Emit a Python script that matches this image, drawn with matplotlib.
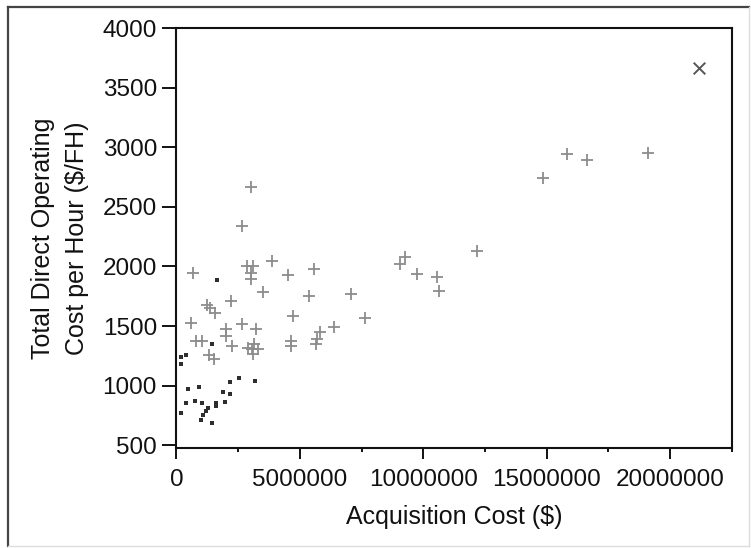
import numpy as np
import matplotlib
matplotlib.use("Agg")
import matplotlib.pyplot as plt
from matplotlib.lines import Line2D
from matplotlib.ticker import MultipleLocator

plt.rcParams['font.family'] = ['Liberation Sans', 'DejaVu Sans']

# === Data ===
# gray "+" points: acquisition cost ($), direct operating cost ($/FH)
plus_cost = [3.03e6, 2.67e6, 0.69e6, 2.85e6, 3.12e6, 3.02e6, 3.02e6, 3.89e6, 4.53e6, 5.59e6,
             3.50e6, 5.37e6, 7.07e6, 2.20e6, 1.23e6, 1.36e6, 1.56e6, 4.74e6, 7.64e6,
             0.59e6, 2.00e6, 2.00e6, 2.65e6, 3.21e6, 6.40e6, 5.83e6, 5.68e6, 5.64e6,
             4.63e6, 4.63e6, 0.78e6, 1.05e6, 2.27e6, 3.05e6, 3.16e6, 3.32e6, 3.12e6,
             2.89e6, 1.32e6, 1.54e6,
             15.81e6, 16.65e6, 19.10e6, 14.84e6, 12.19e6, 9.26e6, 9.06e6, 9.74e6,
             10.57e6, 10.65e6]
plus_doc = [2670, 2340, 1943, 2006, 2006, 1949, 1892, 2043, 1926, 1983,
            1787, 1751, 1770, 1708, 1680, 1651, 1609, 1586, 1566,
            1524, 1473, 1416, 1518, 1473, 1490, 1453, 1396, 1348,
            1377, 1331, 1377, 1377, 1331, 1311, 1348, 1311, 1263,
            1320, 1254, 1226,
            2941, 2893, 2955, 2742, 2133, 2077, 2020, 1935,
            1915, 1798]

# dark square points
dot_cost = [1.63e6, 1.43e6, 0.38e6, 0.17e6, 0.17e6, 0.46e6, 0.93e6, 2.54e6, 3.20e6,
            2.17e6, 1.90e6, 2.17e6, 1.97e6, 0.38e6, 0.75e6, 1.02e6, 1.59e6, 1.59e6,
            0.17e6, 1.29e6, 1.19e6, 1.09e6, 1.00e6, 1.43e6]
dot_doc = [1887, 1354, 1260, 1241, 1184, 971, 986, 1065, 1042,
           1028, 948, 929, 867, 852, 872, 852, 858, 830,
           773, 816, 787, 753, 716, 688]

# single "x" point
x_cost = [21.18e6]
x_doc = [3662]

xticks = [0, 5000000, 10000000, 15000000, 20000000]
yticks = [500, 1000, 1500, 2000, 2500, 3000, 3500, 4000]

# === Plot ===
fig = plt.figure(figsize=(7.51, 5.48), dpi=100)
ax = fig.add_axes([0.2349, 0.1825, 0.7394, 0.7664])

ax.scatter(plus_cost, plus_doc, marker='+', s=80, linewidths=1.3, color='#8c8c8c', zorder=3)
ax.scatter(dot_cost, dot_doc, marker='s', s=9, linewidths=0, color='#2e2e2e', zorder=4)
ax.scatter(x_cost, x_doc, marker='x', s=70, linewidths=1.4, color='#555555', zorder=4)

ax.set_xlim(0, 22.5e6)
ax.set_ylim(478, 4000)
ax.set_xticks(xticks)
ax.set_xticklabels([str(v) for v in xticks])
ax.set_yticks(yticks)
ax.set_yticklabels([str(v) for v in yticks])
ax.xaxis.set_minor_locator(MultipleLocator(2.5e6))

ax.tick_params(axis='both', which='major', labelsize=17.5, width=1.4, color='#111111',
               labelcolor='#111111')
ax.tick_params(axis='y', length=10, pad=4)
ax.tick_params(axis='x', which='major', length=8, pad=7)
ax.tick_params(axis='x', which='minor', length=3, width=1.4, color='#111111')
for sp in ax.spines.values():
    sp.set_linewidth(1.5)
    sp.set_color('#111111')

ax.set_xlabel('Acquisition Cost ($)', fontsize=18, color='#111111', labelpad=10)
ax.set_ylabel('Total Direct Operating\nCost per Hour ($/FH)', fontsize=18, color='#111111',
              labelpad=10, linespacing=1.5)

# outer frame around the picture
fig.add_artist(Line2D([8 / 751, 8 / 751], [1 - 546 / 548, 1 - 7 / 548],
                      transform=fig.transFigure, color='#444444', lw=1.6))
fig.add_artist(Line2D([8 / 751, 749 / 751], [1 - 7 / 548, 1 - 7 / 548],
                      transform=fig.transFigure, color='#444444', lw=1.6))
fig.add_artist(Line2D([749 / 751, 749 / 751], [1 - 546 / 548, 1 - 7 / 548],
                      transform=fig.transFigure, color='#dddddd', lw=1.0))
fig.add_artist(Line2D([8 / 751, 749 / 751], [1 - 546 / 548, 1 - 546 / 548],
                      transform=fig.transFigure, color='#dddddd', lw=1.0))

fig.savefig('out.png', dpi=100)
